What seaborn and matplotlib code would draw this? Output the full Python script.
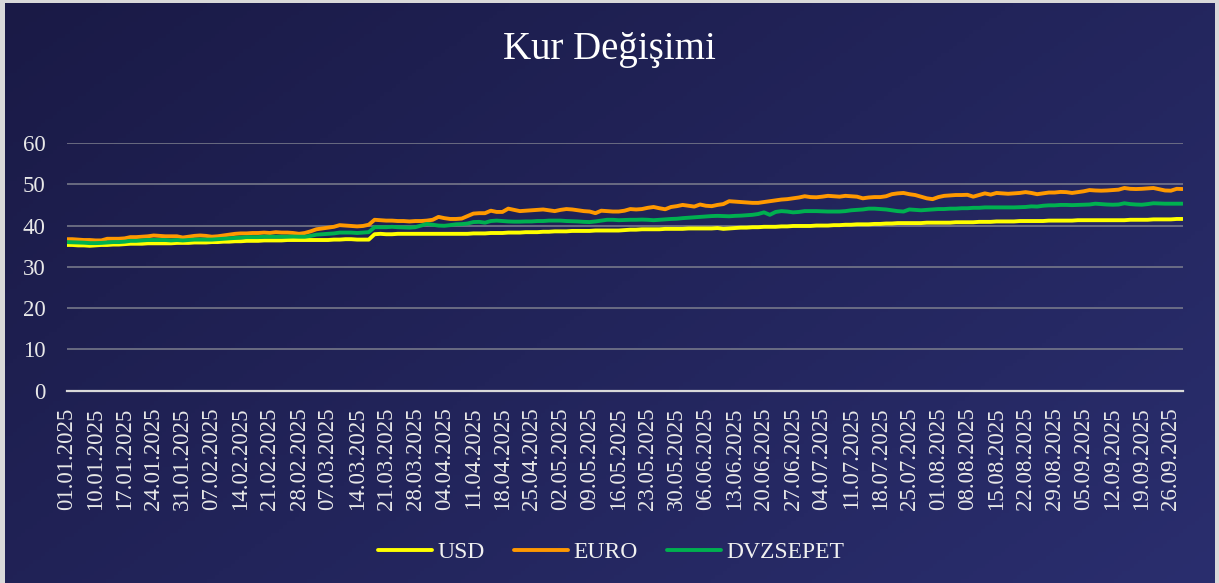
import numpy as np
import pandas as pd
import matplotlib
matplotlib.use("Agg")
import matplotlib.pyplot as plt
import seaborn as sns

# x ekseni etiketleri (her 5 gunde bir)
tick_labels = ["01.01.2025", "10.01.2025", "17.01.2025", "24.01.2025", "31.01.2025",
               "07.02.2025", "14.02.2025", "21.02.2025", "28.02.2025", "07.03.2025",
               "14.03.2025", "21.03.2025", "28.03.2025", "04.04.2025", "11.04.2025",
               "18.04.2025", "25.04.2025", "02.05.2025", "09.05.2025", "16.05.2025",
               "23.05.2025", "30.05.2025", "06.06.2025", "13.06.2025", "20.06.2025",
               "27.06.2025", "04.07.2025", "11.07.2025", "18.07.2025", "25.07.2025",
               "01.08.2025", "08.08.2025", "15.08.2025", "22.08.2025", "29.08.2025",
               "05.09.2025", "12.09.2025", "19.09.2025", "26.09.2025"]

usd = [35.3, 35.3, 35.2, 35.2, 35.1,  35.2, 35.3, 35.3, 35.4, 35.4,
       35.5, 35.6, 35.6, 35.6, 35.7,  35.7, 35.7, 35.7, 35.7, 35.8,
       35.8, 35.8, 35.9, 35.9, 35.9,  36.0, 36.0, 36.1, 36.1, 36.2,
       36.2, 36.3, 36.3, 36.3, 36.4,  36.4, 36.4, 36.4, 36.5, 36.5,
       36.5, 36.5, 36.5, 36.5, 36.5,  36.5, 36.6, 36.6, 36.7, 36.7,
       36.6, 36.6, 36.6, 37.9, 38.0,  37.9, 37.9, 38.0, 38.0, 38.0,
       38.0, 38.0, 38.0, 38.0, 38.0,  38.0, 38.0, 38.0, 38.0, 38.0,
       38.1, 38.1, 38.1, 38.2, 38.2,  38.2, 38.3, 38.3, 38.3, 38.4,
       38.4, 38.4, 38.5, 38.5, 38.6,  38.6, 38.6, 38.7, 38.7, 38.7,
       38.7, 38.8, 38.8, 38.8, 38.8,  38.8, 38.9, 39.0, 39.0, 39.1,
       39.1, 39.1, 39.1, 39.2, 39.2,  39.2, 39.2, 39.3, 39.3, 39.3,
       39.3, 39.3, 39.4, 39.2, 39.3,  39.4, 39.5, 39.5, 39.6, 39.6,
       39.7, 39.7, 39.7, 39.8, 39.8,  39.9, 39.9, 39.9, 39.9, 40.0,
       40.0, 40.0, 40.1, 40.1, 40.2,  40.2, 40.3, 40.3, 40.3, 40.4,
       40.4, 40.5, 40.5, 40.6, 40.6,  40.6, 40.6, 40.6, 40.7, 40.7,
       40.7, 40.7, 40.7, 40.8, 40.8,  40.8, 40.8, 40.9, 40.9, 40.9,
       41.0, 41.0, 41.0, 41.0, 41.1,  41.1, 41.1, 41.1, 41.1, 41.2,
       41.2, 41.2, 41.2, 41.2, 41.3,  41.3, 41.3, 41.3, 41.3, 41.3,
       41.3, 41.3, 41.3, 41.4, 41.4,  41.4, 41.4, 41.5, 41.5, 41.5,
       41.5, 41.6, 41.6]

euro = [36.7, 36.7, 36.6, 36.5, 36.5,  36.4, 36.4, 36.8, 36.8, 36.8,
        36.9, 37.2, 37.2, 37.3, 37.4,  37.6, 37.5, 37.4, 37.4, 37.4,
        37.1, 37.3, 37.5, 37.6, 37.5,  37.3, 37.4, 37.6, 37.8, 38.0,
        38.1, 38.1, 38.2, 38.2, 38.3,  38.2, 38.4, 38.3, 38.3, 38.2,
        38.0, 38.2, 38.6, 39.1, 39.3,  39.5, 39.7, 40.1, 40.0, 39.9,
        39.8, 39.9, 40.2, 41.4, 41.3,  41.2, 41.2, 41.1, 41.1, 41.0,
        41.1, 41.1, 41.2, 41.4, 42.1,  41.8, 41.6, 41.6, 41.7, 42.3,
        42.9, 43.0, 43.0, 43.6, 43.3,  43.3, 44.1, 43.8, 43.5, 43.6,
        43.7, 43.8, 43.9, 43.7, 43.5,  43.8, 44.0, 43.9, 43.7, 43.5,
        43.4, 43.0, 43.6, 43.5, 43.4,  43.4, 43.6, 44.0, 43.9, 44.0,
        44.3, 44.5, 44.2, 43.95, 44.5, 44.7, 45.0, 44.8, 44.6, 45.1,
        44.8, 44.7, 45.0, 45.2, 45.9,  45.8, 45.7, 45.6, 45.5, 45.5,
        45.7, 45.9, 46.1, 46.3, 46.4,  46.6, 46.8, 47.1, 46.9, 46.85,
        47.0, 47.2, 47.1, 47.0, 47.2,  47.1, 47.0, 46.6, 46.8, 46.9,
        46.9, 47.1, 47.6, 47.8, 47.9,  47.6, 47.4, 47.0, 46.6, 46.4,
        46.9, 47.2, 47.3, 47.4, 47.4,  47.45, 47.0, 47.4, 47.8, 47.5,
        47.9, 47.8, 47.7, 47.8, 47.9,  48.1, 47.9, 47.6, 47.8, 48.0,
        48.0, 48.15, 48.1, 47.9, 48.1, 48.3, 48.6, 48.5, 48.45, 48.5,
        48.6, 48.7, 49.1, 48.9, 48.85, 48.9, 49.0, 49.1, 48.8, 48.5,
        48.45, 48.9, 48.85]

dvzsepet = [36.0, 35.95, 35.9, 35.85, 35.75, 35.75, 35.8, 35.9, 36.0, 36.0,
            36.1, 36.3, 36.3, 36.4, 36.5,  36.5, 36.5, 36.5, 36.4, 36.5,
            36.4, 36.5, 36.6, 36.6, 36.6,  36.6, 36.7, 36.8, 36.9, 37.0,
            37.1, 37.2, 37.2, 37.2, 37.3,  37.3, 37.3, 37.3, 37.3, 37.35,
            37.3, 37.3, 37.5, 37.8, 37.9,  38.0, 38.1, 38.3, 38.3, 38.3,
            38.2, 38.3, 38.4, 39.6, 39.6,  39.6, 39.7, 39.6, 39.55, 39.5,
            39.6, 40.0, 40.4, 40.2, 40.0,  39.95, 40.1, 40.3, 40.35, 40.5,
            40.85, 40.9, 40.7, 41.1, 41.2, 41.1, 41.0, 40.95, 40.95, 41.0,
            41.0, 41.1, 41.1, 41.2, 41.2,  41.2, 41.1, 41.05, 41.0, 40.9,
            40.85, 41.0, 41.2, 41.4, 41.4, 41.3, 41.35, 41.4, 41.4, 41.45,
            41.4, 41.3, 41.4, 41.5, 41.6,  41.65, 41.8, 41.9, 42.0, 42.1,
            42.2, 42.3, 42.35, 42.3, 42.25, 42.35, 42.4, 42.5, 42.6, 42.8,
            43.2, 42.6, 43.3, 43.5, 43.4,  43.2, 43.3, 43.5, 43.5, 43.5,
            43.45, 43.4, 43.4, 43.4, 43.5, 43.7, 43.8, 43.9, 44.1, 44.1,
            44.0, 43.9, 43.7, 43.5, 43.4,  43.9, 43.8, 43.7, 43.8, 43.9,
            44.0, 44.0, 44.1, 44.1, 44.2,  44.2, 44.3, 44.3, 44.4, 44.4,
            44.4, 44.4, 44.4, 44.4, 44.45, 44.5, 44.65, 44.6, 44.8, 44.9,
            44.9, 45.0, 45.0, 44.95, 45.0, 45.05, 45.1, 45.3, 45.2, 45.1,
            45.05, 45.1, 45.4, 45.2, 45.1, 45.05, 45.2, 45.4, 45.35, 45.3,
            45.3, 45.3, 45.3]

series_names = ["USD", "EURO", "DVZSEPET"]
colors = ["#FFFF00", "#FF9900", "#00B050"]

sns.set_theme(style="white")
plt.rcParams['font.family'] = ['Liberation Serif', 'DejaVu Serif']

df = pd.DataFrame({"gun": range(len(usd)), "USD": usd, "EURO": euro, "DVZSEPET": dvzsepet})
long_df = df.melt(id_vars="gun", var_name="seri", value_name="kur")

W, H = 1219, 583
fig = plt.figure(figsize=(W / 100, H / 100), dpi=100)
fig.patch.set_facecolor("#d9d9d9")

# koyu lacivert gradyan arka plan
bg = fig.add_axes([5 / W, 0, 1210 / W, 580 / H])
gx, gy = np.meshgrid(np.linspace(0, 1, 300), np.linspace(0, 1, 150))
t = (gx * 0.6 + gy * 0.4)[..., None]
c0 = np.array([26, 26, 70]) / 255
c1 = np.array([42, 46, 110]) / 255
bg.imshow(c0 + t * (c1 - c0), aspect="auto", extent=[0, 1, 0, 1], origin="upper")
bg.set_axis_off()

ax = fig.add_axes([66.5 / W, 1 - 390.7 / H, (1182.5 - 66.5) / W, (390.7 - 143) / H])
ax.patch.set_alpha(0)
sns.lineplot(data=long_df, x="gun", y="kur", hue="seri", hue_order=series_names,
             palette=dict(zip(series_names, colors)), linewidth=2.8,
             estimator=None, ax=ax, legend=False)

ax.set_xlim(0, len(usd) - 1)
ax.set_ylim(0, 60)
ax.set_yticks(range(0, 61, 10))
ax.set_xticks(range(0, 5 * len(tick_labels), 5))
ax.set_xticklabels(tick_labels, rotation=90, ha="center", va="top")
ax.grid(axis="y", color="#7d7f8e", linewidth=1.1)
ax.grid(axis="x", visible=False)
ax.set_axisbelow(True)
for s in ["top", "right", "left"]:
    ax.spines[s].set_visible(False)
ax.spines["bottom"].set_color("#d9d9d9")
ax.spines["bottom"].set_linewidth(1.6)
ax.tick_params(axis="y", length=0, pad=15, labelsize=16.5, labelcolor="#e8e8e8")
ax.tick_params(axis="x", length=0, pad=12, labelsize=16.5, labelcolor="#e8e8e8")
ax.set_xlabel("")
ax.set_ylabel("")

fig.text(609 / W, 1 - 59.5 / H, "Kur Değişimi", ha="center", va="baseline",
         fontsize=28, color="white")

handles = ax.get_lines()[:3]
fig.legend(handles, series_names, loc="center", bbox_to_anchor=(611 / W, 1 - 552 / H),
           ncol=3, frameon=False, fontsize=17, handlelength=2.3, handletextpad=0.2,
           columnspacing=1.25, labelcolor="#f0f0f0")

fig.savefig("out.png", dpi=100)
